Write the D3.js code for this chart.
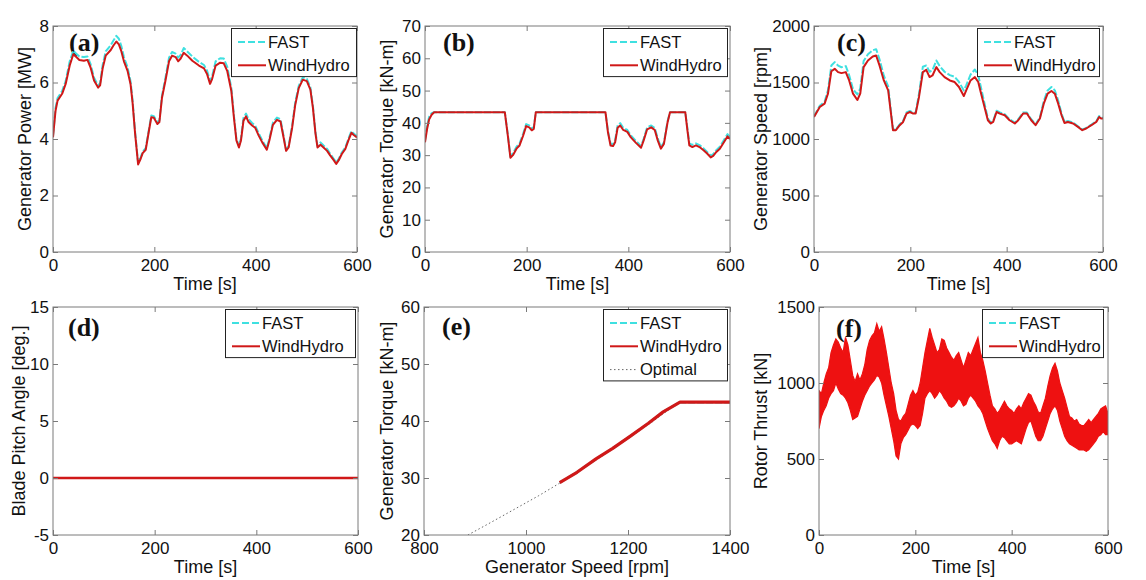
<!DOCTYPE html>
<html><head><meta charset="utf-8">
<script src="https://cdn.jsdelivr.net/npm/d3@7"></script>
<style>
body{margin:0;background:#fff;}
svg{display:block;font-family:"Liberation Sans",Arial,sans-serif;}
</style></head><body>
<svg id="c" width="1146" height="580"></svg>
<script>
// ---------------- DATA ----------------
const timeTicks = [0, 200, 400, 600];
const ticksA = [0, 2, 4, 6, 8];
const ticksB = [0, 10, 20, 30, 40, 50, 60, 70];
const ticksC = [0, 500, 1000, 1500, 2000];
const ticksD = [-5, 0, 5, 10, 15];
const ticksEx = [800, 1000, 1200, 1400];
const ticksEy = [20, 30, 40, 50, 60];
const ticksF = [0, 500, 1000, 1500];

// (a) Generator power [MW]
const tA = [0,5,9,18,25,33,40,46,52,61,68,74,81,89,93,98,104,114,119,125,130,135,140,147,153,157,162,168,173,177,183,188,194,199,206,210,215,222,229,235,242,247,252,258,265,275,288,298,304,310,314,321,330,337,344,352,357,362,367,371,376,381,386,393,399,406,413,422,427,434,442,449,455,460,465,472,478,485,493,501,508,513,518,522,528,534,541,547,554,559,564,570,577,583,589,593,600];
const powerWH = [4.06,5.0,5.36,5.6,5.95,6.6,7.0,6.9,6.8,6.77,6.8,6.54,6.07,5.82,5.9,6.5,6.95,7.15,7.3,7.45,7.35,7.1,6.75,6.42,5.95,5.3,4.2,3.1,3.3,3.5,3.62,4.15,4.77,4.75,4.53,4.6,5.45,6.07,6.75,6.95,6.9,6.75,6.85,7.05,6.95,6.77,6.6,6.5,6.3,5.95,6.12,6.6,6.7,6.68,6.4,5.7,4.77,3.95,3.7,3.95,4.65,4.8,4.6,4.48,4.4,4.12,3.88,3.62,3.95,4.5,4.68,4.62,4.06,3.58,3.7,4.4,5.2,5.8,6.1,6.05,5.75,5.1,4.2,3.7,3.8,3.7,3.58,3.42,3.25,3.12,3.25,3.47,3.65,3.95,4.22,4.15,4.05];
const powerFAST = [4.1,5.1,5.45,5.7,6.05,6.75,7.12,7.02,6.92,6.9,6.92,6.66,6.17,5.9,5.98,6.62,7.1,7.32,7.48,7.65,7.55,7.28,6.9,6.55,6.05,5.38,4.26,3.15,3.35,3.55,3.68,4.2,4.83,4.81,4.59,4.66,5.52,6.17,6.88,7.08,7.02,6.88,6.98,7.22,7.1,6.92,6.73,6.62,6.42,6.05,6.22,6.75,6.86,6.85,6.55,5.8,4.85,4.0,3.76,4.02,4.75,4.9,4.7,4.57,4.48,4.2,3.95,3.68,4.02,4.58,4.76,4.7,4.12,3.63,3.75,4.47,5.28,5.88,6.18,6.13,5.83,5.17,4.26,3.76,3.88,3.77,3.65,3.48,3.3,3.17,3.3,3.52,3.7,4.0,4.28,4.2,4.1];

// (b) Generator torque [kN-m]
const tB = [0,4,8,13,18,157,163,168,173,180,186,193,199,205,210,214,218,355,360,365,370,374,379,384,390,398,405,415,425,430,437,445,452,458,464,470,477,482,512,516,520,526,533,540,548,555,562,567,572,580,588,595,600];
const torqueWH = [34,38,41,42.5,43.3,43.3,36,29.2,30,32,33,36,39,38.6,37.7,38.1,43.3,43.3,37,33,32.8,34,38.5,39.2,37.8,37.2,35.5,33.8,32.3,34.5,38,38.6,37.8,34.5,32,33.5,40,43.3,43.3,38,33,32.5,33,32.5,31.5,30.5,29.3,29.8,30.8,32,34,35.8,35];
const torqueFAST = [34.5,38.8,41.8,43,43.3,43.3,36.3,29.6,30.6,32.6,33.6,36.6,39.6,39.2,38.3,38.7,43.3,43.3,37.4,33.6,33.4,34.6,39.2,39.9,38.5,37.8,36.1,34.4,32.8,35,38.6,39.2,38.4,35.1,32.5,34,40.4,43.3,43.3,38.6,33.6,33.2,33.6,33.1,32.1,31,29.8,30.3,31.4,32.6,34.7,36.5,35.6];

// (c) Generator speed [rpm]
const tC = [0,12,22,29,36,43,50,57,66,73,81,90,96,103,112,122,129,136,145,154,159,164,170,178,185,192,199,206,211,218,226,233,240,246,254,261,271,282,292,301,311,316,325,334,341,347,354,361,367,372,379,386,396,406,417,424,434,442,451,460,469,477,485,493,500,507,514,520,527,538,548,557,565,576,586,592,596,600];
const speedWH = [1195,1283,1313,1401,1600,1621,1592,1583,1592,1518,1401,1345,1401,1636,1695,1730,1739,1651,1518,1430,1254,1078,1078,1122,1151,1225,1239,1225,1225,1372,1592,1612,1548,1562,1636,1592,1548,1518,1504,1460,1380,1430,1518,1548,1504,1401,1283,1166,1137,1151,1239,1225,1210,1166,1137,1166,1225,1225,1166,1122,1181,1313,1401,1425,1401,1313,1210,1142,1151,1137,1107,1078,1093,1122,1151,1195,1181,1181];
const speedFAST = [1200,1295,1330,1430,1650,1680,1650,1635,1645,1565,1440,1395,1445,1690,1750,1785,1795,1705,1560,1465,1275,1085,1085,1130,1160,1235,1248,1233,1233,1400,1640,1650,1595,1610,1695,1645,1595,1565,1550,1505,1430,1475,1570,1615,1565,1450,1315,1180,1145,1160,1250,1235,1220,1175,1145,1175,1235,1234,1175,1130,1192,1335,1430,1460,1430,1340,1225,1150,1160,1145,1113,1083,1098,1128,1157,1203,1188,1188];

// (d) Blade pitch angle [deg.]
const tD = [0, 600];
const pitchWH = [0, 0];
const pitchFAST = [0, 0];

// (e) torque vs speed
const speedE = [1066,1100,1138,1170,1204,1240,1269,1302,1350,1400];
const torqueEWH = [29.2,31.0,33.4,35.2,37.3,39.6,41.6,43.3,43.3,43.3];
const torqueEFAST = [29.2,31.0,33.4,35.2,37.3,39.6,41.6,43.3,43.3,43.3];
const speedOpt = [886,925,975,1025,1066,1100,1150,1200,1250,1300];
const torqueOpt = [20.0,21.9,24.4,26.9,29.1,31.0,33.9,36.9,40.0,43.3];

// (f) Rotor thrust [kN] — band (low / high envelope of the oscillating signal)
const tF = [0,5,10,15,20,25,30,35,40,45,50,55,60,65,70,75,80,85,90,95,100,105,110,115,120,125,130,135,140,145,150,155,160,165,170,175,180,185,190,195,200,205,210,215,220,225,230,235,240,245,250,255,260,265,270,275,280,285,290,295,300,305,310,315,320,325,330,335,340,345,350,355,360,365,370,375,380,385,390,395,400,405,410,415,420,425,430,435,440,445,450,455,460,465,470,475,480,485,490,495,500,505,510,515,520,525,530,535,540,545,550,555,560,565,570,575,580,585,590,595,600];
const thrustLo = [700,780,820,850,900,930,950,1000,960,930,920,900,870,820,760,770,780,830,880,920,950,980,1000,1020,1050,1040,1000,920,850,780,700,620,520,500,600,640,660,690,720,730,720,700,720,800,900,930,950,930,900,920,950,930,900,880,850,840,850,870,900,880,850,860,900,920,900,880,850,830,800,750,700,660,620,600,570,620,650,640,620,600,600,610,620,610,600,650,700,740,750,700,650,620,620,650,700,750,800,830,850,820,750,700,650,620,600,590,580,570,560,560,560,550,560,580,600,620,650,660,680,660,660];
const thrustHi = [950,930,1000,1060,1100,1200,1250,1290,1270,1230,1200,1300,1250,1150,1050,1010,1060,1020,1060,1120,1220,1280,1310,1330,1390,1340,1370,1290,1200,1100,1000,930,820,760,750,780,800,860,920,950,920,940,1000,1100,1200,1280,1360,1300,1250,1200,1220,1290,1280,1230,1200,1170,1150,1180,1200,1150,1100,1150,1200,1180,1220,1260,1300,1200,1150,1080,1000,920,850,830,800,820,850,880,850,830,820,800,830,850,830,870,900,930,920,880,850,810,800,850,900,980,1050,1100,1130,1080,1000,950,900,840,780,770,750,760,730,720,720,740,760,740,760,780,800,830,840,850,800];

// ---------------- DRAWING ----------------
const svg = d3.select('#c');
const RED = '#d01818', CYAN = '#3fe0e0';
const defs = svg.append('defs');

function series(g, x, y, xs, ys, color, width, dash) {
  g.append('path').datum(d3.zip(xs, ys))
    .attr('d', d3.line().x(d => x(d[0])).y(d => y(d[1])))
    .attr('fill', 'none').attr('stroke', color).attr('stroke-width', width)
    .attr('stroke-dasharray', dash || null).attr('stroke-linejoin', 'round');
}

function drawPanel(p) {
  const x = d3.scaleLinear().domain(p.xDomain).range([p.l, p.r]);
  const y = d3.scaleLinear().domain(p.yDomain).range([p.b, p.t]);
  const g = svg.append('g');
  const id = 'clip' + p.tag;
  defs.append('clipPath').attr('id', id).append('rect')
    .attr('x', p.l).attr('y', p.t).attr('width', p.r - p.l).attr('height', p.b - p.t);

  g.append('text').attr('x', p.l + p.tagDx).attr('y', p.tagY)
    .attr('font-family', '"Liberation Serif","Times New Roman",serif')
    .attr('font-size', 26).attr('font-weight', 'bold').attr('fill', '#111')
    .text('(' + p.tag + ')');

  const dg = g.append('g').attr('clip-path', `url(#${id})`);
  p.draw(dg, x, y);

  const fmt = d => String(d);
  const axes = [
    [d3.axisBottom(x).tickValues(p.xTicks).tickFormat(fmt).tickPadding(7), `translate(0,${p.b})`],
    [d3.axisTop(x).tickValues(p.xTicks).tickFormat(''), `translate(0,${p.t})`],
    [d3.axisLeft(y).tickValues(p.yTicks).tickFormat(fmt).tickPadding(4), `translate(${p.l},0)`],
    [d3.axisRight(y).tickValues(p.yTicks).tickFormat(''), `translate(${p.r},0)`]
  ];
  axes.forEach(([a, tr]) => {
    const ag = g.append('g').attr('transform', tr)
      .call(a.tickSizeInner(-5).tickSizeOuter(0));
    ag.select('.domain').remove();
    ag.selectAll('.tick line').attr('stroke', '#7a7a7a');
    ag.selectAll('.tick text').attr('fill', '#111').attr('font-size', 17)
      .attr('font-family', '"Liberation Sans",Arial,sans-serif');
  });
  g.append('rect').attr('x', p.l).attr('y', p.t).attr('width', p.r - p.l).attr('height', p.b - p.t)
    .attr('fill', 'none').attr('stroke', '#7a7a7a').attr('stroke-width', 1);

  // axis titles
  g.append('text').attr('x', (p.l + p.r) / 2).attr('y', p.b + 38)
    .attr('text-anchor', 'middle').attr('font-size', 18).attr('fill', '#111').text(p.xTitle);
  g.append('text').attr('transform', `translate(${p.yTitleX},${(p.t + p.b) / 2}) rotate(-90)`)
    .attr('text-anchor', 'middle').attr('dy', '0.35em').attr('font-size', 18).attr('fill', '#111').text(p.yTitle);

  // legend
  const rowH = 23.3;
  const lg = g.append('g').attr('transform', `translate(${p.legX},${p.t + 2})`);
  lg.append('rect').attr('x', 0.5).attr('y', 0.5).attr('width', p.legW).attr('height', p.legend.length * rowH + 1.5)
    .attr('fill', '#fff').attr('stroke', '#222').attr('stroke-width', 1);
  p.legend.forEach((it, i) => {
    const cy = 14 + i * rowH;
    lg.append('line').attr('x1', 7).attr('x2', 35).attr('y1', cy).attr('y2', cy)
      .attr('stroke', it.color).attr('stroke-width', it.w).attr('stroke-dasharray', it.dash || null);
    lg.append('text').attr('x', 37).attr('y', cy).attr('dy', '0.35em')
      .attr('font-size', 16.5).attr('fill', '#111').text(it.label);
  });
}

const legFAST = {label: 'FAST', color: CYAN, w: 2, dash: '7,3'};
const legWH = {label: 'WindHydro', color: RED, w: 2};
const legOpt = {label: 'Optimal', color: '#666', w: 1, dash: '1.5,2.5'};

const row1 = {t: 26, b: 252}, row2 = {t: 307, b: 535};

drawPanel({tag: 'a', l: 53, r: 357, ...row1, xDomain: [0, 600], yDomain: [0, 8], xTicks: timeTicks, yTicks: ticksA,
  tagDx: 16, tagY: 51, xTitle: 'Time [s]', yTitle: 'Generator Power [MW]', yTitleX: 25, legX: 231, legW: 125,
  legend: [legFAST, legWH],
  draw: (g, x, y) => { series(g, x, y, tA, powerFAST, CYAN, 2, '7,2'); series(g, x, y, tA, powerWH, RED, 2); }});

drawPanel({tag: 'b', l: 425, r: 730, ...row1, xDomain: [0, 600], yDomain: [0, 70], xTicks: timeTicks, yTicks: ticksB,
  tagDx: 18, tagY: 51, xTitle: 'Time [s]', yTitle: 'Generator Torque [kN-m]', yTitleX: 387, legX: 603, legW: 124,
  legend: [legFAST, legWH],
  draw: (g, x, y) => { series(g, x, y, tB, torqueFAST, CYAN, 2, '7,2'); series(g, x, y, tB, torqueWH, RED, 2); }});

drawPanel({tag: 'c', l: 814, r: 1103, ...row1, xDomain: [0, 600], yDomain: [0, 2000], xTicks: timeTicks, yTicks: ticksC,
  tagDx: 23, tagY: 51, xTitle: 'Time [s]', yTitle: 'Generator Speed [rpm]', yTitleX: 761, legX: 977, legW: 122,
  legend: [legFAST, legWH],
  draw: (g, x, y) => { series(g, x, y, tC, speedFAST, CYAN, 2, '7,2'); series(g, x, y, tC, speedWH, RED, 2); }});

drawPanel({tag: 'd', l: 53, r: 358, ...row2, xDomain: [0, 600], yDomain: [-5, 15], xTicks: timeTicks, yTicks: ticksD,
  tagDx: 15, tagY: 336, xTitle: 'Time [s]', yTitle: 'Blade Pitch Angle [deg.]', yTitleX: 19, legX: 225, legW: 130,
  legend: [legFAST, legWH],
  draw: (g, x, y) => { series(g, x, y, tD, pitchFAST, CYAN, 2, '7,2'); series(g, x, y, tD, pitchWH, RED, 2.6); }});

drawPanel({tag: 'e', l: 424, r: 730, ...row2, xDomain: [800, 1400], yDomain: [20, 60], xTicks: ticksEx, yTicks: ticksEy,
  tagDx: 18, tagY: 335, xTitle: 'Generator Speed [rpm]', yTitle: 'Generator Torque [kN-m]', yTitleX: 387, legX: 603, legW: 124,
  legend: [legFAST, legWH, legOpt],
  draw: (g, x, y) => {
    series(g, x, y, speedOpt, torqueOpt, '#666', 1, '1.5,2.5');
    series(g, x, y, speedE, torqueEFAST, CYAN, 2.5, '7,2');
    series(g, x, y, speedE, torqueEWH, RED, 3.2);
  }});

drawPanel({tag: 'f', l: 819, r: 1108, ...row2, xDomain: [0, 600], yDomain: [0, 1500], xTicks: timeTicks, yTicks: ticksF,
  tagDx: 17, tagY: 337, xTitle: 'Time [s]', yTitle: 'Rotor Thrust [kN]', yTitleX: 761, legX: 982, legW: 121,
  legend: [legFAST, legWH],
  draw: (g, x, y) => {
    g.append('path').datum(d3.zip(tF, thrustLo, thrustHi))
      .attr('d', d3.area().x(d => x(d[0])).y0(d => y(d[1])).y1(d => y(d[2])))
      .attr('fill', '#ee1111').attr('stroke', '#ee1111').attr('stroke-width', 1.2).attr('stroke-linejoin', 'miter');
  }});
</script>
</body></html>
